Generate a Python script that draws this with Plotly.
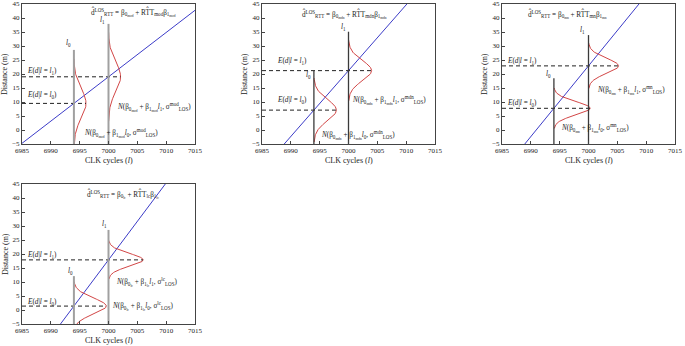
import numpy as np
import plotly.graph_objects as go

# ---------------- data ----------------
NAMES = ["mod", "mdn", "mn", "lc"]
L0 = 6994            # CLK cycles l0
L1 = 7000            # CLK cycles l1
E0 = [9.5, 7.1, 7.75, 1.4]     # E(d | l = l0)
E1 = [19.0, 21.2, 22.9, 17.9]  # E(d | l = l1)
SIG0 = [5.3, 3.8, 2.4, 2.9]    # sigma of N at l0 (m)
SIG1 = [5.3, 3.6, 2.7, 2.3]    # sigma of N at l1 (m)
AMP0 = [2.1, 3.9, 6.3, 5.6]    # drawn height of pdf at l0 (cycles)
AMP1 = [2.1, 4.0, 5.2, 6.0]    # drawn height of pdf at l1 (cycles)
TOP0 = [28.6, 21.1, 18.5, 12.1]  # top of l0 marker line
TOP1 = [37.9, 35.1, 33.9, 28.6]  # top of l1 marker line
X_TICKS = [6985, 6990, 6995, 7000, 7005, 7010, 7015]
Y_TICKS = [-5, 0, 5, 10, 15, 20, 25, 30, 35, 40, 45]

# ---------------- layout geometry ----------------
W, H = 685, 346
XPIX = [(22, 195), (262, 435), (502, 675), (22, 195)]
YPIX = [(4, 144), (4, 144), (4, 144), (184, 324)]
VCOL = ["#a0a0a0", "#3a3a3a", "#3a3a3a", "#a0a0a0"]
VW = [2.0, 1.3, 1.3, 2.0]
EQX = [7004.3, 6999.3, 6996.4, 7002.5]
EQY = [42.0, 41.4, 41.4, 41.4]
LBL0 = [(6993.0, 30.8), (6993.0, 19.6), (6993.1, 19.8), (6993.4, 13.9)]
LBL1 = [(6998.9, 39.2), (6999.2, 36.6), (6999.0, 35.6), (6999.3, 30.6)]
EL1_Y = [20.9, 24.4, 24.4, 19.4]
EL0_Y = [12.3, 10.6, 9.4, 2.7]
EL_X = [6985.6, 6987.2, 6985.6, 6985.6]
N1 = [(7001.2, 7.9), (7000.2, 10.7), (7001.1, 14.0), (7001.0, 9.8)]
N0 = [(6995.4, -1.4), (6994.9, -1.8), (6994.8, 0.6), (7000.2, 1.2)]

FONT = "Liberation Serif, Times New Roman, serif"
FS = 7.2
BLUE = "#3c3cc8"
RED = "#d24646"

fig = go.Figure()
layout = dict(
    width=W, height=H, margin=dict(l=0, r=0, t=0, b=0),
    paper_bgcolor="white", plot_bgcolor="white", showlegend=False,
    font=dict(family=FONT, size=FS, color="#222"),
)
annotations = []


def sb(s):
    return f"<sub>{s}</sub>"


for i, nm in enumerate(NAMES):
    xs = "x" if i == 0 else f"x{i+1}"
    ys = "y" if i == 0 else f"y{i+1}"
    xk = "xaxis" if i == 0 else f"xaxis{i+1}"
    yk = "yaxis" if i == 0 else f"yaxis{i+1}"
    x0p, x1p = XPIX[i]
    y0p, y1p = YPIX[i]
    layout[xk] = dict(
        domain=[x0p / W, x1p / W], range=[6985, 7015], anchor=ys,
        tickvals=X_TICKS, ticks="inside", ticklen=3, tickcolor="#444",
        showline=True, linecolor="#444", linewidth=1, mirror=True,
        showgrid=False, zeroline=False, automargin=False,
        tickfont=dict(family=FONT, size=7, color="#222"),
    )
    layout[yk] = dict(
        domain=[1 - y1p / H, 1 - y0p / H], range=[-5, 45], anchor=xs,
        tickvals=Y_TICKS, ticktext=[("\u2212" + str(-v)) if v < 0 else str(v) for v in Y_TICKS],
        ticks="inside", ticklen=3, tickcolor="#444",
        showline=True, linecolor="#444", linewidth=1, mirror=True,
        showgrid=False, zeroline=False, automargin=False,
        tickfont=dict(family=FONT, size=7, color="#222"),
    )

    slope = (E1[i] - E0[i]) / (L1 - L0)
    lx = np.array([6985.0, 7015.0])
    ly = E0[i] + slope * (lx - L0)
    # regression line
    fig.add_trace(go.Scatter(x=lx, y=ly, mode="lines", xaxis=xs, yaxis=ys,
                             line=dict(color=BLUE, width=1)))
    # pdf curves
    for L, mu, sg, A in ((L0, E0[i], SIG0[i], AMP0[i]), (L1, E1[i], SIG1[i], AMP1[i])):
        yy = np.linspace(mu - 3 * sg, mu + 3 * sg, 121)
        xx = L + A * np.exp(-((yy - mu) ** 2) / (2 * sg ** 2))
        fig.add_trace(go.Scatter(x=xx, y=yy, mode="lines", xaxis=xs, yaxis=ys,
                                 line=dict(color=RED, width=1)))
    # dashed expectation lines
    for L, mu, A in ((L0, E0[i], AMP0[i]), (L1, E1[i], AMP1[i])):
        fig.add_trace(go.Scatter(x=[6985, L + A], y=[mu, mu], mode="lines", xaxis=xs, yaxis=ys,
                                 line=dict(color="#222", width=1, dash="4px,3px")))
    # vertical markers at l0 and l1
    fig.add_trace(go.Scatter(x=[L0, L0], y=[-5, TOP0[i]], mode="lines", xaxis=xs, yaxis=ys,
                             line=dict(color=VCOL[i], width=VW[i])))
    fig.add_trace(go.Scatter(x=[L1, L1], y=[-5, TOP1[i]], mode="lines", xaxis=xs, yaxis=ys,
                             line=dict(color=VCOL[i], width=VW[i])))

    b0 = "\u03b2" + sb("0" + sb(nm))
    b1 = "\u03b2" + sb("1" + sb(nm))
    sig = "\u03c3" + f"<sup>{nm}</sup>" + sb("LOS")
    eq = "d\u0302<sup>LOS</sup>" + sb("RTT") + " = " + b0 + " + RT\u0302T" + sb(nm) + b1

    def ann(x, y, text, xanchor="left", yanchor="middle"):
        annotations.append(dict(x=x, y=y, xref=xs, yref=ys, text=text, showarrow=False,
                                xanchor=xanchor, yanchor=yanchor,
                                font=dict(family=FONT, size=FS, color="#222")))

    ann(EQX[i], EQY[i], eq, xanchor="center")
    ann(LBL0[i][0], LBL0[i][1], "<i>l</i>" + sb("0"), xanchor="center")
    ann(LBL1[i][0], LBL1[i][1], "<i>l</i>" + sb("1"), xanchor="center")
    ann(EL_X[i], EL1_Y[i], "<i>E</i>(<i>d</i>|<i>l</i> = <i>l</i>" + sb("1") + ")")
    ann(EL_X[i], EL0_Y[i], "<i>E</i>(<i>d</i>|<i>l</i> = <i>l</i>" + sb("0") + ")")
    ann(N1[i][0], N1[i][1], "<i>N</i>(" + b0 + " + " + b1 + "<i>l</i>" + sb("1") + ", " + sig + ")")
    ann(N0[i][0], N0[i][1], "<i>N</i>(" + b0 + " + " + b1 + "<i>l</i>" + sb("0") + ", " + sig + ")")

    # axis titles
    annotations.append(dict(x=(x0p + x1p) / 2 / W, y=1 - (y1p + 16) / H, xref="paper", yref="paper",
                            text="CLK cycles (<i>l</i>)", showarrow=False, xanchor="center",
                            yanchor="middle", font=dict(family=FONT, size=8, color="#222")))
    annotations.append(dict(x=(x0p - 17) / W, y=1 - (y0p + y1p) / 2 / H, xref="paper", yref="paper",
                            text="Distance (m)", showarrow=False, textangle=-90, xanchor="center",
                            yanchor="middle", font=dict(family=FONT, size=8, color="#222")))

layout["annotations"] = annotations
fig.update_layout(**layout)
fig.write_html(
    "out.html",
    config={"displayModeBar": False},
    post_script="document.body.style.margin='0';document.body.style.overflow='hidden';",
)
